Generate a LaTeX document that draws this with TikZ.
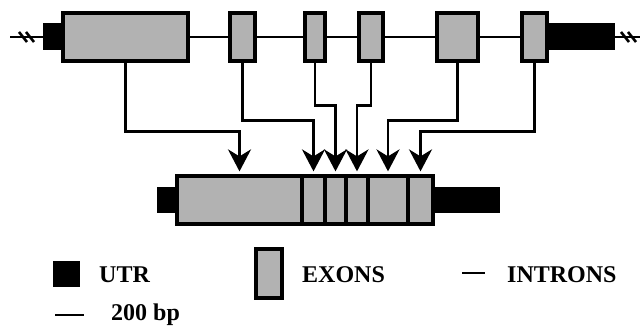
\documentclass[tikz,border=0pt]{standalone}
\usepackage{fontspec}
\setmainfont{Liberation Serif}
\usepackage{xcolor}
\usetikzlibrary{arrows.meta}
\definecolor{exonG}{RGB}{178,178,178}

\begin{document}
\begin{tikzpicture}[
  x=1pt, y=1pt,
  exon/.style={draw, line width=3.2pt, fill=exonG, minimum height=48pt, inner sep=0pt},
  utr/.style={fill=black, minimum height=27pt, inner sep=0pt},
  intron/.style={line width=2.6pt},
  link/.style={line width=2.6pt, -{Stealth[length=22pt, width=23pt, inset=7pt]}},
  lbl/.style={anchor=base west, inner sep=0pt, font=\fontsize{24}{28}\selectfont\bfseries}
]
\useasboundingbox (0,0) rectangle (640,326);

% gene
\draw[intron] (10,289) coordinate (gl) -- (640,289) coordinate (gr);
\draw[intron] (19,294) -- (27,284) (26,294) -- (34,284);
\draw[intron] (621,294) -- (629,284) (628,294) -- (636,284);
\node[utr, minimum width=20pt] (u1) at (53,289) {};
\node[utr, minimum width=68pt] (u2) at (581,289) {};
\node[exon, minimum width=125pt] (e1) at (125.5,289) {};
\node[exon, minimum width=25pt] (e2) at (242.5,289) {};
\node[exon, minimum width=20pt] (e3) at (315,289) {};
\node[exon, minimum width=24pt] (e4) at (371,289) {};
\node[exon, minimum width=41pt] (e5) at (457.5,289) {};
\node[exon, minimum width=25pt] (e6) at (534.5,289) {};

% mRNA
\node[utr, minimum width=20pt, minimum height=26pt] (m1) at (167,126) {};
\node[utr, minimum width=67pt, minimum height=26pt] (m2) at (466.5,126) {};
\node[exon, minimum width=125pt] (s1) at (239.5,126) {};
\node[exon, minimum width=23pt] (s2) at (313.5,126) {};
\node[exon, minimum width=21pt] (s3) at (335.5,126) {};
\node[exon, minimum width=22pt] (s4) at (357,126) {};
\node[exon, minimum width=40pt] (s5) at (388,126) {};
\node[exon, minimum width=25pt] (s6) at (420.5,126) {};

% splicing
\draw[link] (e1.south) |- ([yshift=43pt]s1.north) -- ([yshift=3pt]s1.north);
\draw[link] (e2.south) |- ([yshift=54pt]s2.north) -- ([yshift=3pt]s2.north);
\draw[link] (e3.south) |- ([yshift=69pt]s3.north) -- ([yshift=3pt]s3.north);
\draw[link] (e4.south) |- ([yshift=69pt]s4.north) -- ([yshift=3pt]s4.north);
\draw[link] (e5.south) |- ([yshift=54pt]s5.north) -- ([yshift=3pt]s5.north);
\draw[link] (e6.south) |- ([yshift=43pt]s6.north) -- ([yshift=3pt]s6.north);

% legend
\node[utr, minimum width=27pt, minimum height=26pt] (kutr) at (66.5,52) {};
\node[lbl] (tutr) at (99,43) {UTR};
\node[exon, minimum width=26pt, minimum height=49pt] (kexon) at (269,52.5) {};
\node[lbl] (texon) at (302,43) {EXONS};
\draw[intron] (462,53) coordinate (ki1) -- (485,53) coordinate (ki2);
\node[lbl] (tintron) at (507,43) {INTRONS};
\draw[intron] (55,11) coordinate (ks1) -- (84,11) coordinate (ks2);
\node[lbl] (tscale) at (111,5) {200 bp};

\end{tikzpicture}
\end{document}
